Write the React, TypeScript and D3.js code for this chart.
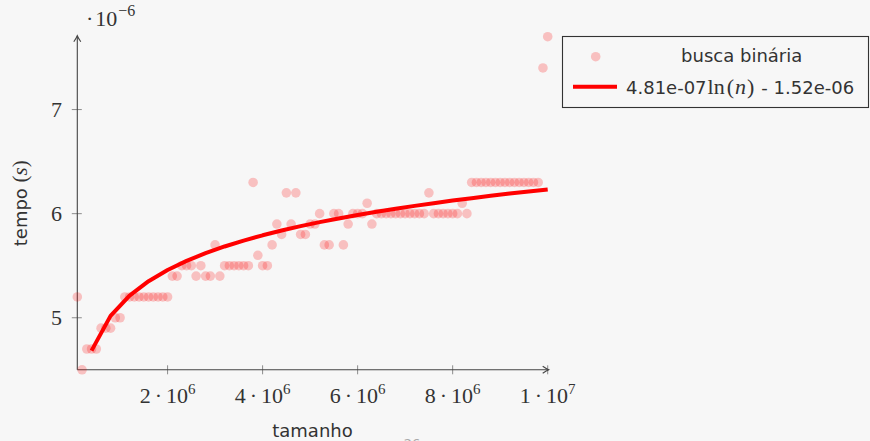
import * as d3 from 'd3';
import React, { ReactElement, useEffect, useRef } from 'react';

const WIDTH = 870;
const HEIGHT = 441;
const BG = '#f7f7f7';
const TEXT = '#333333';
const SANS = "'DejaVu Sans', sans-serif";
const SERIF = "'Liberation Serif', serif";

// tamanho da entrada, em unidades de 1e5
const sizes = [
  1, 2, 3, 4, 5, 6, 7, 8, 9, 10,
  11, 12, 13, 14, 15, 16, 17, 18, 19, 20,
  21, 22, 23, 24, 25, 26, 27, 28, 29, 30,
  31, 32, 33, 34, 35, 36, 37, 38, 39, 40,
  41, 42, 43, 44, 45, 46, 47, 48, 49, 50,
  51, 52, 53, 54, 55, 56, 57, 58, 59, 60,
  61, 62, 63, 64, 65, 66, 67, 68, 69, 70,
  71, 72, 73, 74, 75, 76, 77, 78, 79, 80,
  81, 82, 83, 84, 85, 86, 87, 88, 89, 90,
  91, 92, 93, 94, 95, 96, 97, 98, 99, 100,
];

// tempo medido, em unidades de 1e-6 s
const times = [
  5.2, 4.5, 4.7, 4.7, 4.7, 4.9, 4.9, 4.9, 5.0, 5.0,
  5.2, 5.2, 5.2, 5.2, 5.2, 5.2, 5.2, 5.2, 5.2, 5.2,
  5.4, 5.4, 5.5, 5.5, 5.5, 5.4, 5.5, 5.4, 5.4, 5.7,
  5.4, 5.5, 5.5, 5.5, 5.5, 5.5, 5.5, 6.3, 5.6, 5.5,
  5.5, 5.7, 5.9, 5.8, 6.2, 5.9, 6.2, 5.8, 5.8, 5.9,
  5.9, 6.0, 5.7, 5.7, 6.0, 6.0, 5.7, 5.9, 6.0, 6.0,
  6.0, 6.1, 5.9, 6.0, 6.0, 6.0, 6.0, 6.0, 6.0, 6.0,
  6.0, 6.0, 6.0, 6.0, 6.2, 6.0, 6.0, 6.0, 6.0, 6.0,
  6.0, 6.1, 6.0, 6.3, 6.3, 6.3, 6.3, 6.3, 6.3, 6.3,
  6.3, 6.3, 6.3, 6.3, 6.3, 6.3, 6.3, 6.3, 7.4, 7.7,
];

// pontos de amostragem da curva ajustada (unidades de 1e5)
const fitSamples = [
  4, 8, 12, 16, 20, 24, 28, 32, 36, 40, 44, 48, 52,
  56, 60, 64, 68, 72, 76, 80, 84, 88, 92, 96, 100,
];
const FIT_A = 4.81e-7;
const FIT_B = -1.52e-6;

const xTicks = [2e6, 4e6, 6e6, 8e6, 1e7];
const xTickMantissa = ['2', '4', '6', '8', '1'];
const xTickExponent = ['6', '6', '6', '6', '7'];
const yTicks = [5, 6, 7];

const Chart = (): ReactElement => {
  const ref = useRef(null);

  const create = () => {
    const svg = d3
      .select(ref.current)
      .append('svg')
      .attr('width', WIDTH)
      .attr('height', HEIGHT)
      .style('position', 'absolute')
      .style('left', 0)
      .style('top', 0);

    svg.append('rect').attr('width', WIDTH).attr('height', HEIGHT).attr('fill', BG);

    const x = d3.scaleLinear().domain([1e5, 1e7]).range([77.3, 547.7]);
    const y = d3.scaleLinear().domain([4.5, 7.7]).range([369.8, 36.7]);
    const [x0, x1] = x.range();
    const [y0, y1] = y.range();

    // ticks
    const ticks = svg.append('g').attr('stroke', '#8c8c8c').attr('stroke-width', 1);
    xTicks.forEach((t) => {
      ticks.append('line').attr('x1', x(t)).attr('x2', x(t)).attr('y1', y0 - 4.5).attr('y2', y0 + 4.5);
    });
    yTicks.forEach((t) => {
      ticks.append('line').attr('x1', x0 - 5.5).attr('x2', x0 + 4.5).attr('y1', y(t)).attr('y2', y(t));
    });

    // eixos com setas
    const axis = svg.append('g').attr('stroke', '#444').attr('stroke-width', 1.1).attr('fill', 'none');
    axis.append('line').attr('x1', x0).attr('x2', x1 + 1).attr('y1', y0).attr('y2', y0);
    axis.append('line').attr('x1', x0).attr('x2', x0).attr('y1', y0).attr('y2', y1 - 1);
    const head = (tx: number, ty: number, rot: number) =>
      axis
        .append('path')
        .attr('d', 'M-3.5,6 Q-0.8,2 0,0 Q0.8,2 3.5,6')
        .attr('transform', `translate(${tx},${ty}) rotate(${rot})`);
    head(x0, y1 - 1, 0);
    head(x1 + 1, y0, 90);

    // rótulos dos ticks
    xTicks.forEach((t, i) => {
      const txt = svg
        .append('text')
        .attr('x', x(t))
        .attr('y', 403)
        .attr('text-anchor', 'middle')
        .attr('font-family', SERIF)
        .attr('font-size', 22)
        .attr('fill', TEXT);
      txt.append('tspan').text(xTickMantissa[i]);
      txt.append('tspan').attr('dx', 4).text('\u00B7');
      txt.append('tspan').attr('dx', 4).text('10');
      txt.append('tspan').attr('dy', -9).attr('font-size', 15).text(xTickExponent[i]);
    });
    yTicks.forEach((t) => {
      svg
        .append('text')
        .attr('x', 62)
        .attr('y', y(t) + 7.5)
        .attr('text-anchor', 'end')
        .attr('font-family', SERIF)
        .attr('font-size', 22)
        .attr('fill', TEXT)
        .text(t);
    });

    // fator de escala do eixo y
    const mult = svg
      .append('text')
      .attr('x', 86)
      .attr('y', 26)
      .attr('font-family', SERIF)
      .attr('font-size', 22)
      .attr('fill', TEXT);
    mult.append('tspan').text('\u00B7');
    mult.append('tspan').attr('dx', 2).text('10');
    mult.append('tspan').attr('dy', -10).attr('dx', 1).attr('font-size', 16).text('\u22126');

    // títulos
    svg
      .append('text')
      .attr('x', (x0 + x1) / 2)
      .attr('y', 437)
      .attr('text-anchor', 'middle')
      .attr('font-family', SANS)
      .attr('font-size', 18)
      .attr('fill', TEXT)
      .text('tamanho');

    const yl = svg
      .append('text')
      .attr('transform', `translate(27,${(y0 + y1) / 2}) rotate(-90)`)
      .attr('text-anchor', 'middle')
      .attr('font-family', SANS)
      .attr('font-size', 18)
      .attr('fill', TEXT);
    yl.append('tspan').text('tempo ');
    yl.append('tspan').attr('font-family', SERIF).attr('font-size', 21).text('(');
    yl.append('tspan').attr('font-family', SERIF).attr('font-size', 21).attr('font-style', 'italic').text('s');
    yl.append('tspan').attr('font-family', SERIF).attr('font-size', 21).text(')');

    // número da página (cortado na borda, como no original)
    svg
      .append('text')
      .attr('x', 412)
      .attr('y', 448)
      .attr('text-anchor', 'middle')
      .attr('font-family', SANS)
      .attr('font-size', 13)
      .attr('fill', '#aaa')
      .text('26');

    // dados
    svg
      .append('g')
      .selectAll('circle')
      .data(sizes)
      .enter()
      .append('circle')
      .attr('cx', (d) => x(d * 1e5))
      .attr('cy', (d, i) => y(times[i]))
      .attr('r', 4.8)
      .attr('fill', '#ff0000')
      .attr('fill-opacity', 0.22);

    const line = d3
      .line<number>()
      .x((d) => x(d * 1e5))
      .y((d) => y((FIT_A * Math.log(d * 1e5) + FIT_B) * 1e6));

    svg
      .append('path')
      .attr('d', line(fitSamples))
      .attr('fill', 'none')
      .attr('stroke', '#ff0000')
      .attr('stroke-width', 4)
      .attr('stroke-linejoin', 'round');

    // legenda
    const lg = svg.append('g');
    lg.append('rect')
      .attr('x', 562.5)
      .attr('y', 36.5)
      .attr('width', 306)
      .attr('height', 71)
      .attr('fill', BG)
      .attr('stroke', '#333')
      .attr('stroke-width', 1.1);
    lg.append('circle')
      .attr('cx', 595.7)
      .attr('cy', 56.7)
      .attr('r', 4.8)
      .attr('fill', '#ff0000')
      .attr('fill-opacity', 0.22);
    lg.append('text')
      .attr('x', 741.7)
      .attr('y', 62)
      .attr('text-anchor', 'middle')
      .attr('font-family', SANS)
      .attr('font-size', 18)
      .attr('fill', TEXT)
      .text('busca binária');
    lg.append('line')
      .attr('x1', 573)
      .attr('x2', 617)
      .attr('y1', 86.7)
      .attr('y2', 86.7)
      .attr('stroke', '#ff0000')
      .attr('stroke-width', 4);
    const f = lg
      .append('text')
      .attr('x', 626)
      .attr('y', 94)
      .attr('font-family', SANS)
      .attr('font-size', 18)
      .attr('fill', TEXT);
    f.append('tspan').text('4.81e-07');
    f.append('tspan').attr('dx', 1).attr('font-family', SERIF).attr('font-size', 22).text('ln');
    f.append('tspan').attr('dx', 2).attr('font-family', SERIF).attr('font-size', 22).text('(');
    f.append('tspan').attr('dx', 1).attr('font-family', SERIF).attr('font-size', 22).attr('font-style', 'italic').text('n');
    f.append('tspan').attr('dx', 1).attr('font-family', SERIF).attr('font-size', 22).text(')');
    f.append('tspan').attr('dx', 7).text('- 1.52e-06');
  };

  const clear = () => {
    d3.select(ref.current).selectAll('svg').remove();
  };

  useEffect(() => {
    create();
    return () => {
      clear();
    };
  }, []);

  return <div ref={ref}></div>;
};

export default function App(): ReactElement {
  return <Chart />;
}
